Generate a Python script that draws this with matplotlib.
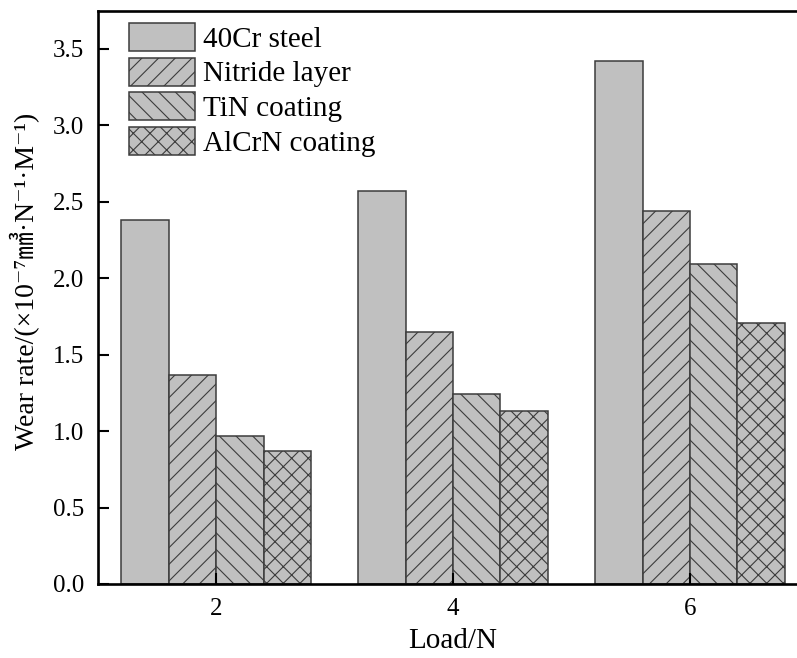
import numpy as np
import matplotlib
matplotlib.use('Agg')
import matplotlib.pyplot as plt

# data
loads = ['2', '4', '6']
series = ['40Cr steel', 'Nitride layer', 'TiN coating', 'AlCrN coating']
steel = [2.38, 2.57, 3.42]
nitride = [1.37, 1.65, 2.44]
tin = [0.97, 1.24, 2.09]
alcrn = [0.87, 1.13, 1.71]
yticks = [0.0, 0.5, 1.0, 1.5, 2.0, 2.5, 3.0, 3.5]

values = [steel, nitride, tin, alcrn]
hatches = ['', '//', '\\\\', 'xx']

plt.rcParams['font.family'] = ['Liberation Serif', 'DejaVu Serif', 'Noto Sans CJK SC']
plt.rcParams['hatch.linewidth'] = 0.8
plt.rcParams['hatch.color'] = '#3c3c3c'

fig = plt.figure(figsize=(7.97, 6.58), dpi=100)
ax = fig.add_axes([0.1226, 0.1125, 0.8918, 0.8713])

x = np.arange(len(loads))
width = 0.2
for i, (name, vals, h) in enumerate(zip(series, values, hatches)):
    ax.bar(x - 0.3 + i * width, vals, width, label=name, color='#c0c0c0',
           edgecolor='#3c3c3c', linewidth=1.1, hatch=h)

ax.set_xlim(-0.5, 2.5)
ax.set_ylim(0, 3.75)
ax.set_xticks(x)
ax.set_xticklabels(loads)
ax.set_yticks(yticks)
ax.set_yticklabels(['%.1f' % t for t in yticks])
ax.tick_params(direction='in', length=8, width=1.5, labelsize=18, pad=10)
for sp in ax.spines.values():
    sp.set_linewidth(1.9)

ax.set_xlabel('Load/N', fontsize=21, labelpad=6)
ax.set_ylabel('Wear rate/(×10⁻⁷㎣·N⁻¹·M⁻¹)', fontsize=20)
ax.yaxis.set_label_coords(-0.081, 0.527)

ax.legend(loc='upper left', bbox_to_anchor=(0.044, 0.979), frameon=False,
          fontsize=21, borderpad=0, borderaxespad=0, handlelength=2.26,
          handleheight=1.1, labelspacing=0.17, handletextpad=0.28)

fig.savefig('out.png', dpi=100)
